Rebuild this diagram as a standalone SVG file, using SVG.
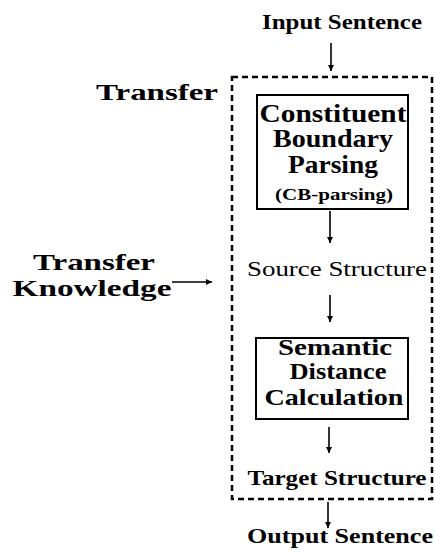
<svg xmlns="http://www.w3.org/2000/svg" width="435" height="553" viewBox="0 0 435 553">
<style>
text{fill:#000;text-anchor:middle}
.b{font-weight:bold}
.box{fill:none;stroke:#000;stroke-width:2}
.dash{fill:none;stroke:#000;stroke-width:2.5;stroke-dasharray:6 4}
.ar{stroke:#000;stroke-width:1.6;fill:none}
</style>
<defs>
<marker id="ah" viewBox="0 0 10 10" refX="10" refY="5" markerWidth="6" markerHeight="7" markerUnits="userSpaceOnUse" orient="auto">
<path d="M0,0 L10,5 L0,10 z" fill="#000"/>
</marker>
</defs>
<rect x="0" y="0" width="435" height="553" fill="#fff"/>
<g font-family="'Liberation Serif', 'DejaVu Serif', serif">
<g id="transfer-frame">
<rect class="dash" x="232" y="77" width="200" height="422"/>
<text class="b" x="157" y="100" font-size="24" textLength="122" lengthAdjust="spacingAndGlyphs">Transfer</text>
</g>
<g id="input">
<text class="b" x="342" y="29" font-size="20" textLength="160" lengthAdjust="spacingAndGlyphs">Input Sentence</text>
</g>
<g id="cb-parsing">
<rect class="box" x="257" y="95" width="151" height="114"/>
<text class="b" x="333" y="122" font-size="25" textLength="147" lengthAdjust="spacingAndGlyphs">Constituent</text>
<text class="b" x="333" y="147" font-size="25" textLength="120" lengthAdjust="spacingAndGlyphs">Boundary</text>
<text class="b" x="333" y="173" font-size="25" textLength="90" lengthAdjust="spacingAndGlyphs">Parsing</text>
<text class="b" x="334" y="200" font-size="17" textLength="118" lengthAdjust="spacingAndGlyphs">(CB-parsing)</text>
</g>
<g id="source">
<text x="337" y="276" font-size="21" textLength="180" lengthAdjust="spacingAndGlyphs">Source Structure</text>
</g>
<g id="semantic">
<rect class="box" x="256" y="338" width="152" height="81"/>
<text class="b" x="335" y="355" font-size="24" textLength="114" lengthAdjust="spacingAndGlyphs">Semantic</text>
<text class="b" x="338" y="379" font-size="24" textLength="97" lengthAdjust="spacingAndGlyphs">Distance</text>
<text class="b" x="334" y="405" font-size="24" textLength="139" lengthAdjust="spacingAndGlyphs">Calculation</text>
</g>
<g id="target">
<text class="b" x="337" y="485" font-size="21" textLength="179" lengthAdjust="spacingAndGlyphs">Target Structure</text>
</g>
<g id="output">
<text class="b" x="340" y="543" font-size="21" textLength="186" lengthAdjust="spacingAndGlyphs">Output Sentence</text>
</g>
<g id="knowledge">
<text class="b" x="94" y="270" font-size="24" textLength="122" lengthAdjust="spacingAndGlyphs">Transfer</text>
<text class="b" x="92" y="296" font-size="24" textLength="159" lengthAdjust="spacingAndGlyphs">Knowledge</text>
</g>
</g>
<g id="connectors">
<line class="ar" x1="331" y1="43" x2="331" y2="71" marker-end="url(#ah)"/>
<line class="ar" x1="330" y1="211" x2="330" y2="243" marker-end="url(#ah)"/>
<line class="ar" x1="330" y1="295" x2="330" y2="322" marker-end="url(#ah)"/>
<line class="ar" x1="329" y1="427" x2="329" y2="453" marker-end="url(#ah)"/>
<line class="ar" x1="328" y1="502" x2="328" y2="528" marker-end="url(#ah)"/>
<line class="ar" x1="172" y1="282" x2="212" y2="282" marker-end="url(#ah)"/>
</g>
</svg>
